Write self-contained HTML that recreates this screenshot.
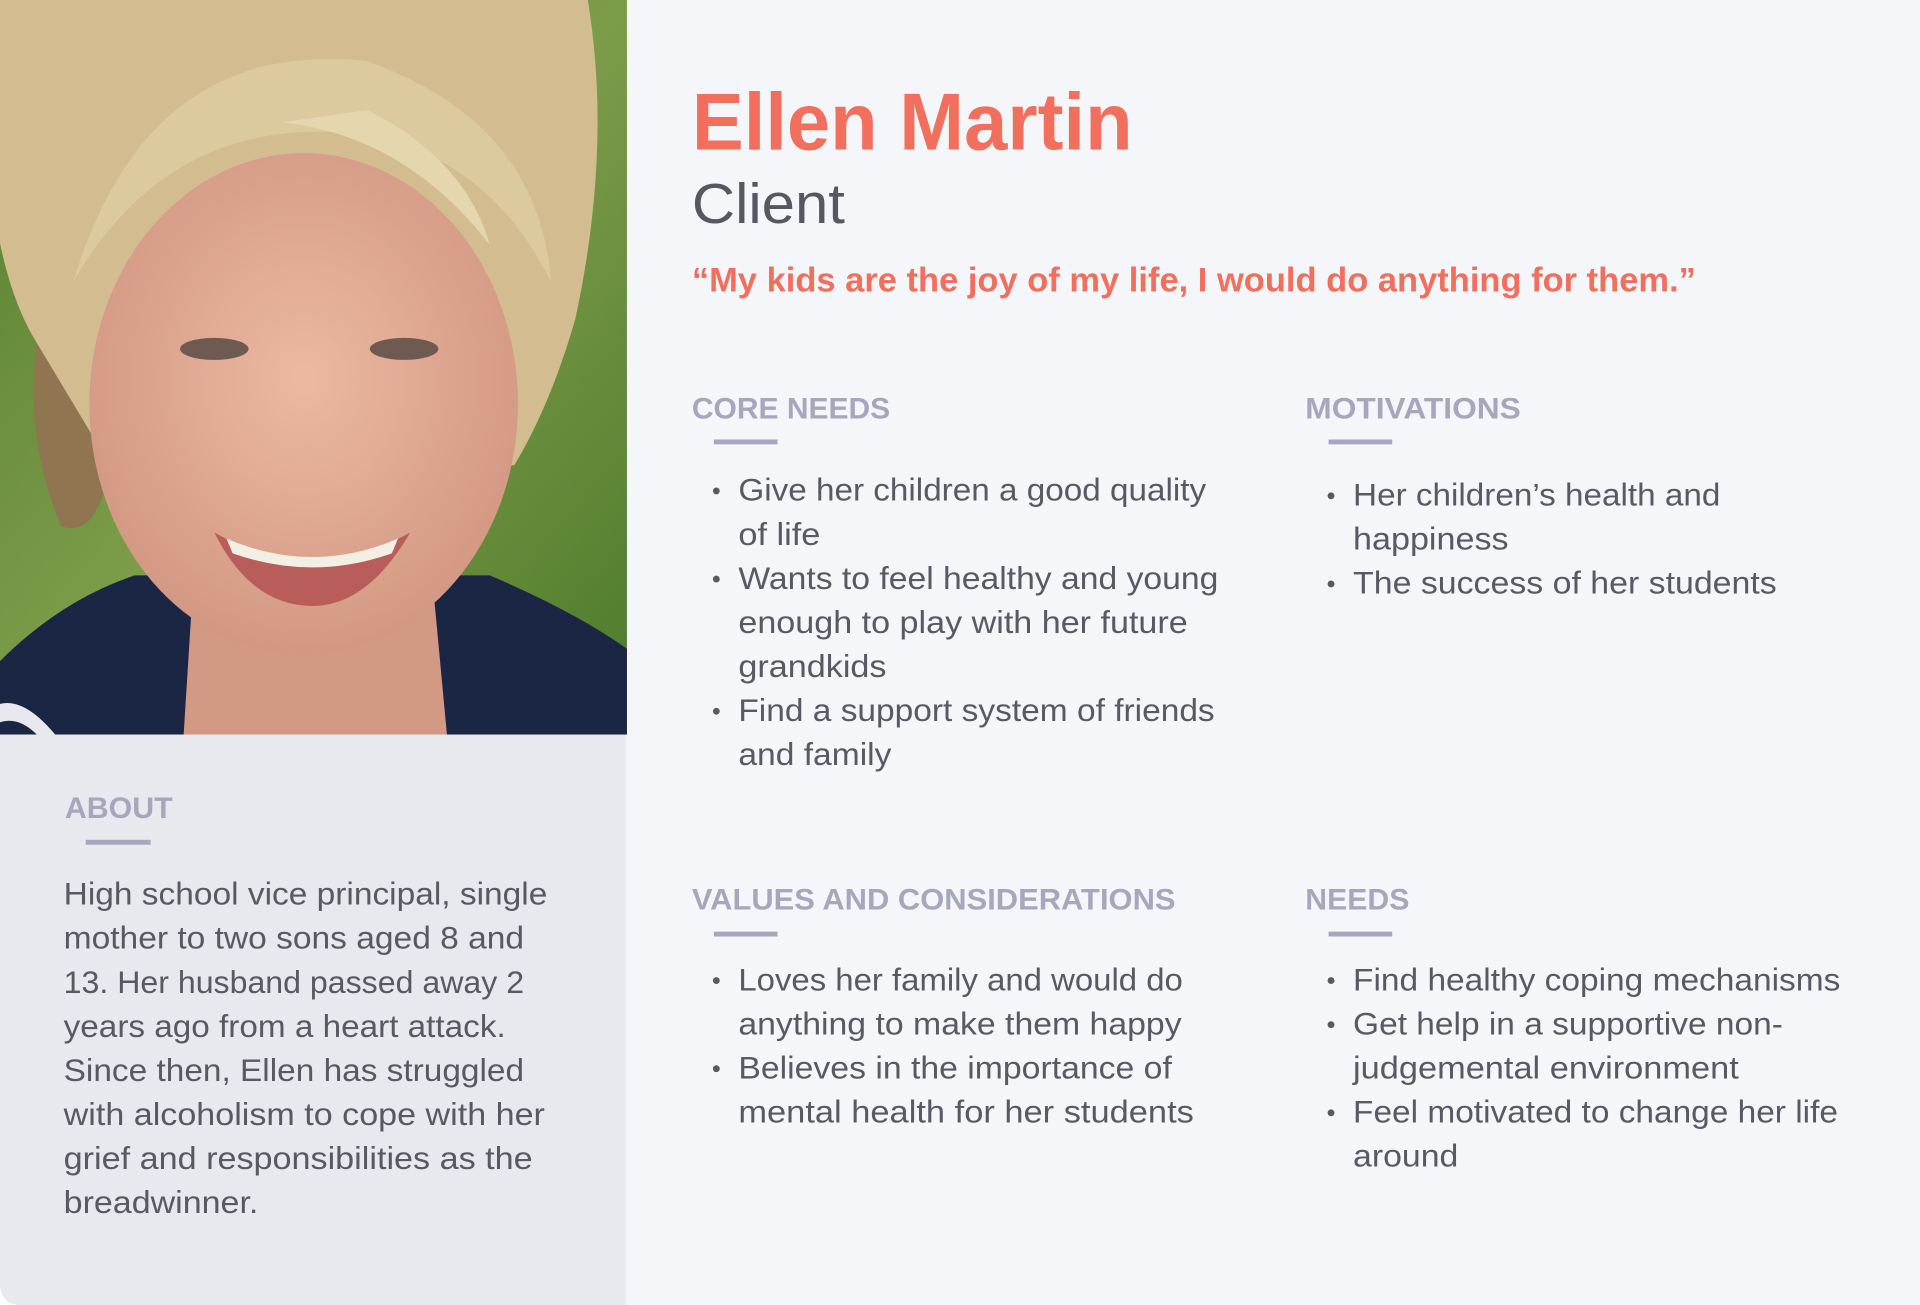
<!DOCTYPE html>
<html><head><meta charset="utf-8"><style>
html,body{margin:0;padding:0;background:#fff;width:1920px;height:1305px;overflow:hidden}
svg{display:block}
text{font-family:"Liberation Sans",sans-serif}
.h{font-size:24px;font-weight:700;fill:#a6a7bc}
.b{font-size:26px;fill:#575a63}
</style></head><body>
<svg width="1920" height="1305" viewBox="0 0 1568 1066" preserveAspectRatio="none" xmlns="http://www.w3.org/2000/svg">
<defs>
<clipPath id="card"><path d="M0 0H1568V1066H18Q0 1066 0 1048Z"/></clipPath>
<linearGradient id="grass" x1="0" y1="0" x2="1" y2="1"><stop offset="0" stop-color="#55802f"/><stop offset="0.5" stop-color="#7d9c4a"/><stop offset="1" stop-color="#4c7a2a"/></linearGradient>
<radialGradient id="skin" cx="0.5" cy="0.45" r="0.6"><stop offset="0" stop-color="#ecb9a2"/><stop offset="1" stop-color="#d09580"/></radialGradient>
</defs>
<g clip-path="url(#card)">
<rect x="0" y="0" width="1568" height="1066" fill="#f5f6fa"/>
<rect x="0" y="600" width="511" height="466" fill="#e8e9ee"/>
<g>
<rect x="0" y="0" width="512" height="600" fill="url(#grass)"/>
<path d="M0 540 Q50 490 110 470 L400 470 Q470 500 512 530 L512 600 L0 600Z" fill="#1b2644"/>
<path d="M0 575 Q20 570 45 600 L30 600 Q15 585 0 590Z" fill="#e8e8ee"/>
<path d="M160 440 L350 440 L365 600 L150 600Z" fill="#d29a84"/>
<path d="M-10 0 L480 0 Q500 120 470 260 Q450 330 420 380 L90 380 Q40 340 30 280 Q-20 200 -10 0Z" fill="#d3bd90"/>
<path d="M30 280 Q20 360 50 430 Q80 440 90 380Z" fill="#8f7550"/>
<ellipse cx="248" cy="330" rx="175" ry="205" fill="url(#skin)"/>
<path d="M60 230 Q140 90 300 110 Q400 130 450 230 Q440 100 300 50 Q120 30 60 230Z" fill="#ddc99e"/>
<path d="M230 100 Q330 110 400 200 Q380 130 300 90Z" fill="#e6d6ae"/>
<ellipse cx="175" cy="285" rx="28" ry="9" fill="#6f5a52"/>
<ellipse cx="330" cy="285" rx="28" ry="9" fill="#6f5a52"/>
<path d="M175 435 Q255 480 335 435 Q300 495 255 495 Q205 495 175 435Z" fill="#b85d5a"/>
<path d="M185 440 Q255 470 325 440 L320 452 Q255 475 190 452Z" fill="#f4efe4"/>
</g>
<text x="565" y="122" font-size="66" font-weight="700" fill="#f26f5e" textLength="360" lengthAdjust="spacingAndGlyphs">Ellen Martin</text>
<text x="565" y="182" font-size="46" fill="#555860" textLength="125" lengthAdjust="spacingAndGlyphs">Client</text>
<text x="565" y="238" font-size="28" font-weight="700" fill="#f26f5e" textLength="820" lengthAdjust="spacingAndGlyphs">“My kids are the joy of my life, I would do anything for them.”</text>

<g>
<text class="h" x="565" y="342" textLength="162" lengthAdjust="spacingAndGlyphs">CORE NEEDS</text>
<rect x="583" y="359" width="52" height="4" fill="#a6a7bc"/>
<circle cx="585" cy="401" r="2.8" fill="#575a63"/><circle cx="585" cy="473" r="2.8" fill="#575a63"/><circle cx="585" cy="581" r="2.8" fill="#575a63"/>
<text class="b" x="603" y="409" textLength="382" lengthAdjust="spacingAndGlyphs">Give her children a good quality</text>
<text class="b" x="603" y="445" textLength="67" lengthAdjust="spacingAndGlyphs">of life</text>
<text class="b" x="603" y="481" textLength="392" lengthAdjust="spacingAndGlyphs">Wants to feel healthy and young</text>
<text class="b" x="603" y="517" textLength="367" lengthAdjust="spacingAndGlyphs">enough to play with her future</text>
<text class="b" x="603" y="553" textLength="121" lengthAdjust="spacingAndGlyphs">grandkids</text>
<text class="b" x="603" y="589" textLength="389" lengthAdjust="spacingAndGlyphs">Find a support system of friends</text>
<text class="b" x="603" y="625" textLength="125" lengthAdjust="spacingAndGlyphs">and family</text>
</g>

<g>
<text class="h" x="1066" y="342" textLength="176" lengthAdjust="spacingAndGlyphs">MOTIVATIONS</text>
<rect x="1085" y="359" width="52" height="4" fill="#a6a7bc"/>
<circle cx="1087" cy="405" r="2.8" fill="#575a63"/><circle cx="1087" cy="477" r="2.8" fill="#575a63"/>
<text class="b" x="1105" y="413" textLength="300" lengthAdjust="spacingAndGlyphs">Her children’s health and</text>
<text class="b" x="1105" y="449" textLength="127" lengthAdjust="spacingAndGlyphs">happiness</text>
<text class="b" x="1105" y="485" textLength="346" lengthAdjust="spacingAndGlyphs">The success of her students</text>
</g>

<g>
<text class="h" x="565" y="743" textLength="395" lengthAdjust="spacingAndGlyphs">VALUES AND CONSIDERATIONS</text>
<rect x="583" y="761" width="52" height="4" fill="#a6a7bc"/>
<circle cx="585" cy="801" r="2.8" fill="#575a63"/><circle cx="585" cy="873" r="2.8" fill="#575a63"/>
<text class="b" x="603" y="809" textLength="363" lengthAdjust="spacingAndGlyphs">Loves her family and would do</text>
<text class="b" x="603" y="845" textLength="362" lengthAdjust="spacingAndGlyphs">anything to make them happy</text>
<text class="b" x="603" y="881" textLength="354" lengthAdjust="spacingAndGlyphs">Believes in the importance of</text>
<text class="b" x="603" y="917" textLength="372" lengthAdjust="spacingAndGlyphs">mental health for her students</text>
</g>

<g>
<text class="h" x="1066" y="743" textLength="85" lengthAdjust="spacingAndGlyphs">NEEDS</text>
<rect x="1085" y="761" width="52" height="4" fill="#a6a7bc"/>
<circle cx="1087" cy="801" r="2.8" fill="#575a63"/><circle cx="1087" cy="837" r="2.8" fill="#575a63"/><circle cx="1087" cy="909" r="2.8" fill="#575a63"/>
<text class="b" x="1105" y="809" textLength="398" lengthAdjust="spacingAndGlyphs">Find healthy coping mechanisms</text>
<text class="b" x="1105" y="845" textLength="351" lengthAdjust="spacingAndGlyphs">Get help in a supportive non-</text>
<text class="b" x="1105" y="881" textLength="315" lengthAdjust="spacingAndGlyphs">judgemental environment</text>
<text class="b" x="1105" y="917" textLength="396" lengthAdjust="spacingAndGlyphs">Feel motivated to change her life</text>
<text class="b" x="1105" y="953" textLength="86" lengthAdjust="spacingAndGlyphs">around</text>
</g>

<g>
<text class="h" x="53" y="668" textLength="88" lengthAdjust="spacingAndGlyphs">ABOUT</text>
<rect x="70" y="686" width="53" height="4" fill="#a6a7bc"/>
<text class="b" x="52" y="739" textLength="395" lengthAdjust="spacingAndGlyphs">High school vice principal, single</text>
<text class="b" x="52" y="775" textLength="376" lengthAdjust="spacingAndGlyphs">mother to two sons aged 8 and</text>
<text class="b" x="52" y="811" textLength="376" lengthAdjust="spacingAndGlyphs">13. Her husband passed away 2</text>
<text class="b" x="52" y="847" textLength="361" lengthAdjust="spacingAndGlyphs">years ago from a heart attack.</text>
<text class="b" x="52" y="883" textLength="376" lengthAdjust="spacingAndGlyphs">Since then, Ellen has struggled</text>
<text class="b" x="52" y="919" textLength="393" lengthAdjust="spacingAndGlyphs">with alcoholism to cope with her</text>
<text class="b" x="52" y="955" textLength="383" lengthAdjust="spacingAndGlyphs">grief and responsibilities as the</text>
<text class="b" x="52" y="991" textLength="159" lengthAdjust="spacingAndGlyphs">breadwinner.</text>
</g>
</g>
</svg>
</body></html>
